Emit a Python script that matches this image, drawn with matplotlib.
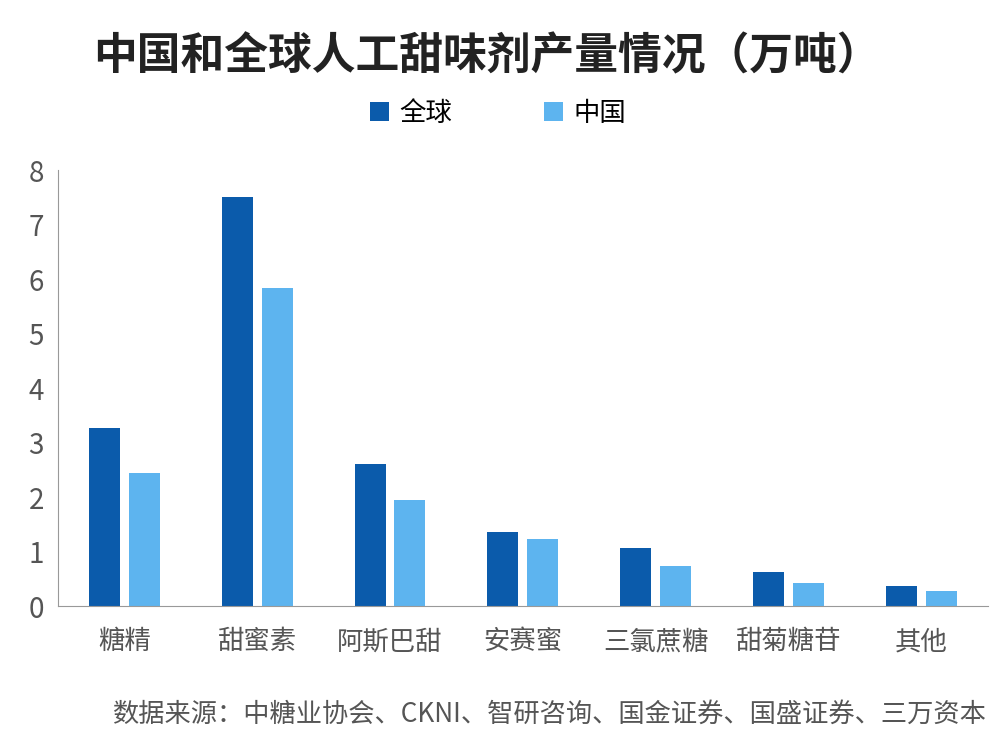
import matplotlib
matplotlib.use("Agg")
import matplotlib.pyplot as plt
import numpy as np

plt.rcParams['font.family'] = ['Noto Sans CJK SC', 'DejaVu Sans']

categories = ["糖精", "甜蜜素", "阿斯巴甜", "安赛蜜", "三氯蔗糖", "甜菊糖苷", "其他"]
global_vals = [3.27, 7.5, 2.6, 1.36, 1.07, 0.62, 0.36]
china_vals = [2.45, 5.83, 1.95, 1.23, 0.73, 0.43, 0.28]

fig = plt.figure(figsize=(9.96, 7.5), dpi=100)
ax = fig.add_axes([0.058, 0.192, 0.934, 0.581])
x = np.arange(len(categories))
w = 0.233
ax.bar(x - 0.15, global_vals, w, color="#0b5bab", label="全球")
ax.bar(x + 0.15, china_vals, w, color="#5db4ef", label="中国")
ax.set_xlim(-0.5, len(categories) - 0.5)
ax.set_ylim(0, 8)
ax.set_yticks(range(0, 9))
ax.set_xticks(x)
ax.set_xticklabels(categories)
for s in ["top", "right"]:
    ax.spines[s].set_visible(False)
for s in ["left", "bottom"]:
    ax.spines[s].set_color("#999999")
ax.tick_params(axis="x", colors="#555555", labelsize=19, length=0, pad=16)
ax.tick_params(axis="y", colors="#555555", labelsize=20, length=0, pad=10)

fig.text(0.489, 0.925, "中国和全球人工甜味剂产量情况（万吨）", ha="center", va="center",
         fontsize=31.5, fontweight="bold", color="#222222")
fig.legend(loc="center", bbox_to_anchor=(0.5, 0.849), ncol=2, frameon=False,
           fontsize=19, handlelength=0.7, handleheight=0.7, columnspacing=3.5, handletextpad=0.4)
fig.text(0.99, 0.047, "数据来源：中糖业协会、CKNI、智研咨询、国金证券、国盛证券、三万资本",
         ha="right", va="center", fontsize=18.9, color="#555555")
fig.savefig("out.png", dpi=100)
